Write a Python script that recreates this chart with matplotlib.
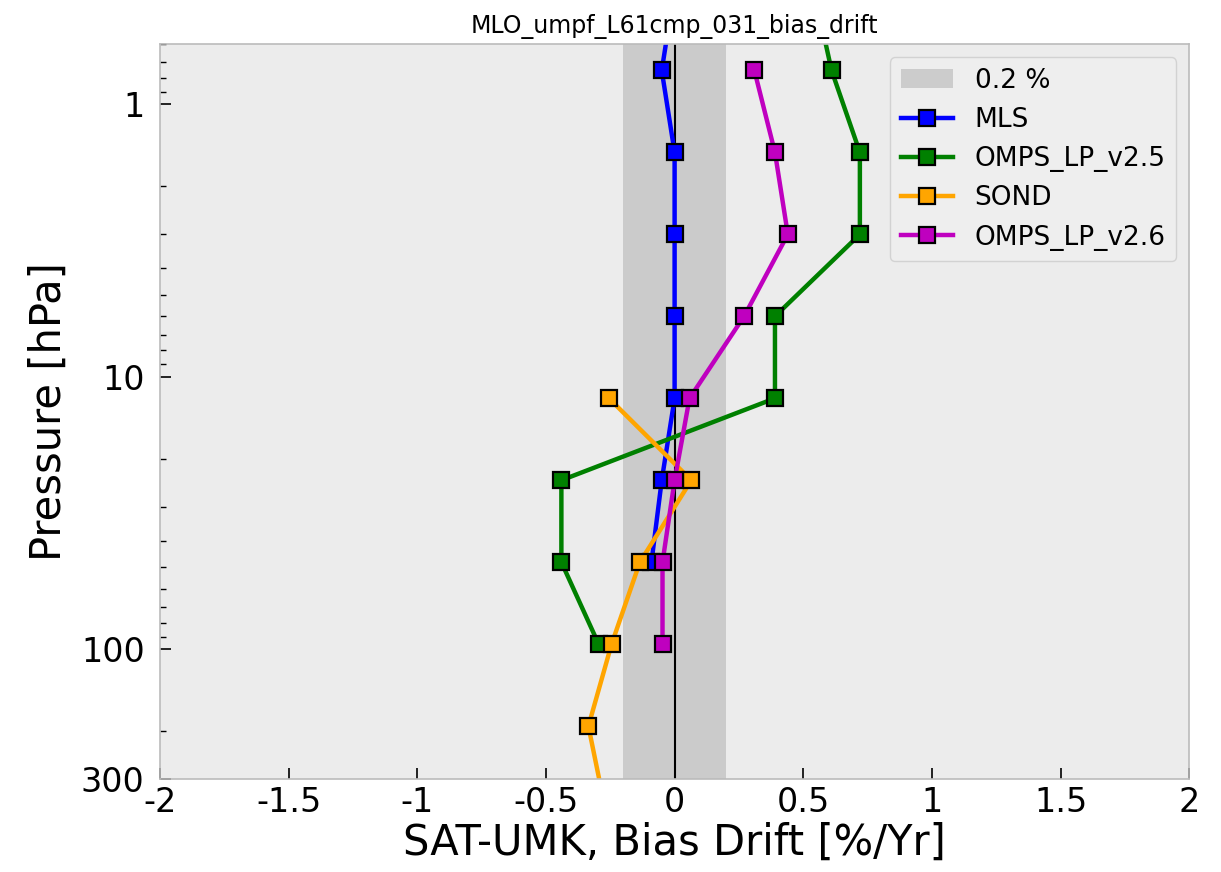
import matplotlib
matplotlib.use("Agg")
import matplotlib.pyplot as plt
from matplotlib.ticker import FormatStrFormatter, NullFormatter, LogLocator

# pressure levels [hPa] and bias drift [%/Yr]
p_mls = [0.375, 0.75, 1.5, 3, 6, 12, 24, 48]
mls = [0.0, -0.05, 0.0, 0.0, 0.0, 0.0, -0.05, -0.09]

p_v25 = [0.375, 0.75, 1.5, 3, 6, 12, 24, 48, 96]
omps_v25 = [0.54, 0.61, 0.72, 0.72, 0.39, 0.39, -0.44, -0.44, -0.295]

p_sond = [12, 24, 48, 96, 192, 384]
sond = [-0.255, 0.065, -0.135, -0.245, -0.335, -0.27]

p_v26 = [0.75, 1.5, 3, 6, 12, 24, 48, 96]
omps_v26 = [0.31, 0.39, 0.44, 0.27, 0.058, 0.0, -0.047, -0.047]

band = 0.2
title = "MLO_umpf_L61cmp_031_bias_drift"

fig = plt.figure(figsize=(12.21, 8.72), dpi=100)
ax = fig.add_axes([0.131, 0.1067, 0.843, 0.8428])
ax.set_facecolor('#ececec')

ax.axvspan(-band, band, color='gray', alpha=0.3, lw=0, label='%.1f %%' % band, zorder=0.5)
ax.axvline(0, color='k', lw=1.5, zorder=1)

mk = dict(marker='s', markersize=11.5, markeredgecolor='k', markeredgewidth=1.6, lw=3.2)
ax.plot(mls, p_mls, color='blue', label='MLS', **mk)
ax.plot(omps_v25, p_v25, color='green', label='OMPS_LP_v2.5', **mk)
ax.plot(sond, p_sond, color='orange', label='SOND', **mk)
ax.plot(omps_v26, p_v26, color='m', label='OMPS_LP_v2.6', **mk)

ax.set_yscale('log')
ax.set_ylim(300, 0.6)
ax.set_xlim(-2, 2)
ax.set_yticks([1, 10, 100, 300])
ax.set_yticklabels(['1', '10', '100', '300'])
ax.yaxis.set_minor_locator(LogLocator(base=10, subs=range(2, 10)))
ax.yaxis.set_minor_formatter(NullFormatter())
ax.set_xticks([-2, -1.5, -1, -0.5, 0, 0.5, 1, 1.5, 2])
ax.xaxis.set_major_formatter(FormatStrFormatter('%g'))

ax.tick_params(axis='both', which='major', direction='in', labelsize=24, length=8, width=1.2)
ax.tick_params(axis='y', which='major', pad=11)
ax.tick_params(axis='x', which='major', pad=5)
ax.tick_params(axis='y', which='minor', direction='in', length=4, width=1)
ax.tick_params(top=False, right=False)
for s in ax.spines.values():
    s.set_color('#bbbbbb')
    s.set_linewidth(1.2)

ax.set_xlabel('SAT-UMK, Bias Drift [%/Yr]', fontsize=30, labelpad=2)
ax.set_ylabel('Pressure [hPa]', fontsize=30, labelpad=8)
ax.set_title(title, fontsize=17, pad=8)

ax.legend(loc='upper right', fontsize=19, facecolor='#efefef', edgecolor='#cccccc',
          borderaxespad=0.5)

fig.savefig('out.png', dpi=100)
